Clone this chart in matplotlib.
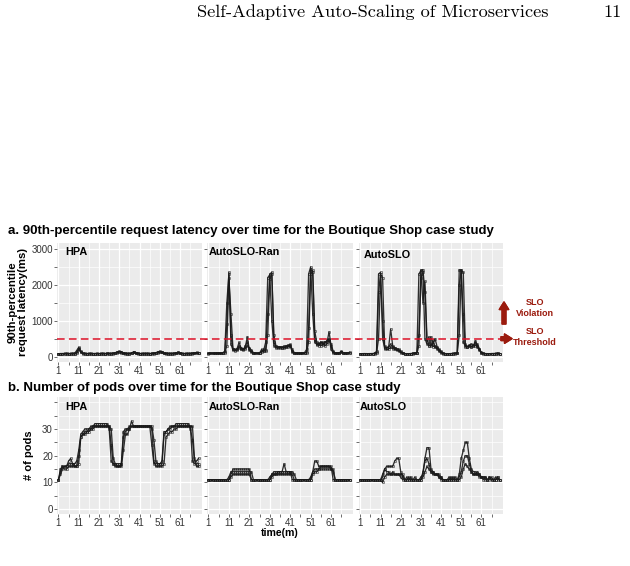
import matplotlib
matplotlib.use("Agg")
import matplotlib.pyplot as plt
from matplotlib.lines import Line2D

plt.rcParams["font.family"] = ["Liberation Sans", "DejaVu Sans"]

# time axis (minutes)
time = list(range(1, 71))
methods = ["HPA", "AutoSLO-Ran", "AutoSLO"]
slo_threshold = 500

# 90th-percentile latency (ms), three runs per method
hpa_latency = [
    [80, 85, 82, 88, 84, 86, 83, 90, 85, 120, 240, 130, 90, 86, 84, 88, 85, 83, 86, 84,
     85, 88, 84, 86, 90, 85, 87, 92, 110, 130, 150, 120, 95, 88, 86, 90, 100, 135, 95, 88,
     85, 87, 84, 86, 88, 85, 90, 95, 110, 130, 150, 120, 92, 88, 86, 90, 85, 88, 95, 115,
     90, 86, 85, 88, 84, 86, 90, 95, 110, 100],
    [80, 83, 86, 84, 88, 85, 87, 84, 95, 170, 260, 160, 95, 88, 85, 84, 87, 86, 85, 88,
     84, 86, 88, 85, 87, 89, 86, 90, 100, 120, 140, 135, 100, 90, 87, 85, 92, 120, 110, 90,
     86, 84, 88, 87, 85, 86, 88, 92, 105, 125, 140, 130, 100, 90, 87, 85, 88, 90, 100, 120,
     100, 88, 86, 85, 87, 88, 92, 100, 115, 95],
    [75, 80, 78, 82, 80, 79, 81, 80, 82, 100, 200, 120, 85, 80, 82, 80, 79, 81, 80, 82,
     80, 79, 82, 80, 81, 83, 80, 85, 95, 110, 130, 110, 90, 82, 80, 82, 90, 115, 90, 82,
     80, 81, 79, 82, 80, 81, 82, 86, 95, 110, 130, 115, 88, 82, 80, 81, 80, 84, 90, 105,
     88, 82, 80, 82, 81, 80, 84, 88, 100, 90],
]
ran_latency = [
    [90, 95, 88, 92, 100, 95, 90, 110, 130, 900, 2350, 600, 200, 180, 220, 400, 220, 200, 250, 550,
     200, 150, 100, 95, 90, 100, 150, 200, 180, 1200, 2300, 2350, 400, 280, 260, 270, 250, 260, 280, 300,
     340, 150, 100, 95, 90, 95, 92, 100, 120, 800, 2450, 2350, 500, 320, 380, 300, 350, 420, 400, 690,
     300, 120, 95, 90, 100, 150, 110, 95, 100, 120],
    [90, 92, 95, 90, 92, 98, 95, 100, 150, 1500, 2300, 350, 180, 170, 200, 300, 250, 180, 300, 400,
     180, 120, 95, 92, 90, 95, 130, 170, 400, 2200, 2280, 1000, 300, 250, 240, 260, 250, 240, 260, 280,
     300, 120, 95, 92, 95, 90, 95, 110, 200, 2300, 2500, 1200, 400, 350, 300, 420, 320, 380, 450, 500,
     200, 100, 92, 95, 100, 140, 100, 92, 95, 110],
    [85, 88, 90, 92, 88, 90, 92, 95, 110, 300, 2200, 1200, 220, 200, 180, 250, 200, 220, 220, 300,
     250, 180, 110, 95, 92, 95, 200, 150, 150, 600, 2150, 2300, 600, 300, 280, 250, 270, 290, 300, 320,
     320, 200, 110, 95, 92, 90, 95, 100, 110, 400, 2300, 2400, 700, 400, 350, 380, 400, 300, 350, 450,
     350, 150, 100, 95, 92, 120, 95, 90, 100, 110],
]
autoslo_latency = [
    [80, 82, 85, 80, 83, 85, 82, 90, 150, 2300, 2350, 500, 250, 240, 260, 770, 300, 250, 220, 200,
     150, 100, 85, 82, 80, 85, 90, 95, 110, 600, 2400, 2420, 1800, 400, 550, 300, 350, 500, 280, 200,
     150, 95, 85, 82, 80, 85, 88, 90, 100, 2000, 2420, 400, 300, 280, 320, 350, 300, 440, 300, 200,
     120, 90, 85, 82, 80, 85, 82, 88, 90, 85],
    [78, 80, 82, 84, 80, 82, 85, 88, 120, 1800, 2300, 2200, 300, 250, 280, 350, 260, 240, 200, 180,
     120, 95, 82, 80, 82, 84, 88, 90, 100, 2300, 2400, 1500, 2100, 500, 300, 550, 280, 300, 250, 180,
     120, 90, 82, 80, 82, 84, 86, 88, 95, 2420, 2400, 2350, 350, 280, 300, 260, 320, 300, 350, 220,
     100, 88, 82, 80, 82, 84, 86, 85, 88, 82],
    [75, 78, 80, 78, 76, 80, 82, 85, 100, 500, 2250, 1000, 220, 200, 210, 260, 220, 200, 180, 160,
     110, 90, 80, 78, 80, 82, 85, 88, 92, 300, 2200, 2350, 500, 350, 300, 320, 450, 260, 220, 150,
     100, 85, 80, 78, 80, 82, 85, 86, 90, 600, 2350, 1200, 280, 260, 300, 280, 300, 380, 260, 180,
     95, 85, 80, 78, 80, 82, 84, 82, 85, 80],
]

# number of pods, three runs per method
hpa_pods = [
    [11, 14, 16, 16, 16, 17, 17, 17, 17, 18, 22, 28, 29, 30, 30, 30, 31, 31, 32, 32,
     32, 32, 32, 32, 32, 30, 18, 17, 17, 17, 17, 17, 27, 29, 30, 30, 31, 31, 31, 31,
     31, 31, 31, 31, 31, 31, 24, 17, 17, 17, 17, 17, 28, 29, 30, 30, 31, 31, 31, 31,
     31, 31, 31, 31, 31, 31, 18, 17, 17, 17],
    [11, 13, 15, 16, 16, 18, 19, 17, 16, 16, 20, 27, 28, 29, 29, 30, 30, 31, 31, 31,
     31, 31, 31, 31, 31, 31, 24, 17, 16, 16, 16, 16, 22, 28, 28, 30, 33, 31, 31, 31,
     31, 31, 31, 31, 31, 31, 30, 18, 16, 16, 16, 16, 17, 27, 28, 29, 29, 30, 30, 31,
     31, 31, 31, 31, 31, 31, 31, 19, 16, 16],
    [11, 15, 16, 15, 15, 16, 16, 16, 16, 16, 17, 27, 28, 28, 29, 29, 30, 30, 31, 31,
     31, 31, 31, 31, 31, 31, 30, 19, 17, 16, 16, 17, 29, 30, 30, 31, 31, 31, 31, 31,
     31, 31, 31, 31, 31, 31, 31, 26, 18, 17, 17, 18, 29, 29, 30, 31, 31, 31, 32, 32,
     32, 32, 32, 32, 32, 30, 26, 18, 18, 19],
]
ran_pods = [
    [11, 11, 11, 11, 11, 11, 11, 11, 11, 11, 11, 13, 15, 15, 15, 15, 15, 15, 15, 15,
     15, 11, 11, 11, 11, 11, 11, 11, 11, 11, 11, 13, 14, 14, 14, 14, 14, 17, 14, 14,
     14, 11, 11, 11, 11, 11, 11, 11, 11, 11, 11, 14, 18, 18, 16, 16, 16, 16, 16, 16,
     16, 11, 11, 11, 11, 11, 11, 11, 11, 11],
    [11, 11, 11, 11, 11, 11, 11, 11, 11, 11, 12, 14, 14, 14, 14, 14, 14, 14, 14, 14,
     14, 14, 11, 11, 11, 11, 11, 11, 11, 11, 12, 13, 13, 13, 13, 13, 13, 13, 13, 13,
     13, 13, 11, 11, 11, 11, 11, 11, 11, 11, 12, 14, 15, 15, 15, 16, 16, 16, 16, 16,
     15, 15, 11, 11, 11, 11, 11, 11, 11, 11],
    [11, 11, 11, 11, 11, 11, 11, 11, 11, 11, 11, 12, 13, 13, 13, 13, 13, 13, 13, 13,
     13, 11, 11, 11, 11, 11, 11, 11, 11, 11, 11, 12, 13, 13, 14, 14, 14, 14, 14, 14,
     14, 14, 13, 11, 11, 11, 11, 11, 11, 11, 11, 13, 14, 14, 15, 15, 15, 15, 15, 15,
     15, 14, 11, 11, 11, 11, 11, 11, 11, 11],
]
autoslo_pods = [
    [11, 11, 11, 11, 11, 11, 11, 11, 11, 11, 11, 13, 15, 16, 16, 16, 16, 18, 19, 19,
     14, 12, 11, 11, 12, 11, 11, 11, 11, 11, 12, 13, 19, 23, 23, 15, 14, 13, 13, 12,
     11, 11, 11, 11, 12, 11, 11, 12, 11, 13, 19, 22, 25, 25, 19, 15, 14, 14, 13, 13,
     12, 12, 12, 11, 12, 11, 11, 12, 11, 11],
    [11, 11, 11, 11, 11, 11, 11, 11, 11, 11, 11, 12, 15, 14, 14, 13, 13, 13, 13, 13,
     13, 13, 11, 11, 11, 12, 11, 11, 11, 11, 11, 14, 18, 19, 17, 14, 13, 13, 13, 13,
     12, 11, 11, 11, 11, 11, 12, 11, 11, 12, 14, 18, 20, 20, 17, 14, 13, 13, 14, 13,
     12, 11, 12, 11, 11, 12, 11, 11, 12, 11],
    [11, 11, 11, 11, 11, 11, 11, 11, 11, 11, 11, 10, 12, 13, 13, 13, 14, 13, 13, 13,
     12, 11, 11, 12, 11, 11, 11, 12, 11, 11, 11, 12, 14, 16, 15, 14, 14, 13, 13, 12,
     12, 11, 11, 11, 11, 12, 11, 11, 11, 11, 12, 15, 17, 16, 15, 14, 13, 13, 13, 12,
     12, 12, 11, 11, 12, 11, 11, 11, 12, 11],
]

latency = [hpa_latency, ran_latency, autoslo_latency]
pods = [hpa_pods, ran_pods, autoslo_pods]

x_major = [1, 11, 21, 31, 41, 51, 61]
x_minor = [6, 16, 26, 36, 46, 56, 66]
lat_ticks = [0, 1000, 2000, 3000]
lat_minor = [500, 1500, 2500]
pod_ticks = [0, 10, 20, 30]
pod_minor = [5, 15, 25, 35, 40]

W, H = 630, 566
fig = plt.figure(figsize=(W / 100, H / 100), dpi=100)

lefts = [57, 207, 359]
widths = [145, 146, 144]
dark_red = "#9B1B0E"


def make_axes(top, bottom):
    axes = []
    for l, w in zip(lefts, widths):
        axes.append(fig.add_axes([l / W, 1 - bottom / H, w / W, (bottom - top) / H]))
    return axes


def style_panel(ax, yticks, yminor, ylim, show_y):
    ax.set_facecolor("#EBEBEB")
    for s in ax.spines.values():
        s.set_visible(False)
    ax.set_xlim(0.3, 71.7)
    ax.set_ylim(*ylim)
    ax.set_xticks(x_major)
    ax.set_xticks(x_minor, minor=True)
    ax.set_yticks(yticks)
    ax.set_yticks(yminor, minor=True)
    ax.grid(which="major", color="white", lw=0.9)
    ax.grid(which="minor", color="white", lw=0.5)
    ax.set_axisbelow(True)
    ax.tick_params(which="both", length=2, width=0.5, color="#333333",
                   labelsize=7, labelcolor="#333333", pad=1)
    ax.tick_params(axis="y", labelleft=show_y)


def draw_runs(ax, runs):
    for r in runs:
        ax.plot(time, r, color="#1a1a1a", lw=0.95, alpha=0.9,
                marker="o", ms=1.7, mfc="none", mew=0.4)


top_axes = make_axes(243, 362)
bot_axes = make_axes(397, 514)
label_dx = [0.055, 0.015, 0.03]

for i, ax in enumerate(top_axes):
    style_panel(ax, lat_ticks, lat_minor, (-150, 3165), i == 0)
    draw_runs(ax, latency[i])
    ax.text(label_dx[i], 0.965 if i < 2 else 0.94, methods[i], transform=ax.transAxes,
            fontsize=7.8, fontweight="bold", va="top", ha="left")

for i, ax in enumerate(bot_axes):
    style_panel(ax, pod_ticks, pod_minor, (-1.8, 42), i == 0)
    draw_runs(ax, pods[i])
    ax.text(label_dx[i] if i < 2 else 0.008, 0.955, methods[i], transform=ax.transAxes,
            fontsize=7.8, fontweight="bold", va="top", ha="left")

# SLO threshold line spanning all three latency panels
fig.canvas.draw()
y_thr = top_axes[0].transData.transform((1, slo_threshold))[1] / fig.dpi / fig.get_figheight()
fig.add_artist(Line2D([lefts[0] / W, (lefts[2] + widths[2]) / W], [y_thr, y_thr],
                      transform=fig.transFigure, color="#DC1026", lw=1.1,
                      dashes=(5, 2.8)))

# SLO annotation arrows
arrow_style = "simple,head_length=0.6,head_width=0.75,tail_width=0.3"
fig.add_artist(plt.annotate("", xy=(504, H - 302), xytext=(504, H - 324),
                            xycoords="figure pixels", textcoords="figure pixels",
                            arrowprops=dict(arrowstyle=arrow_style, color=dark_red,
                                            mutation_scale=9, shrinkA=0, shrinkB=0)))
fig.add_artist(plt.annotate("", xy=(512, y_thr * H), xytext=(501, y_thr * H),
                            xycoords="figure pixels", textcoords="figure pixels",
                            arrowprops=dict(arrowstyle=arrow_style, color=dark_red,
                                            mutation_scale=9, shrinkA=0, shrinkB=0)))
fig.text(535 / W, 1 - 308 / H, "SLO\nViolation", color=dark_red, fontsize=6.5,
         fontweight="bold", ha="center", va="center", linespacing=1.25)
fig.text(535 / W, 1 - 337 / H, "SLO\nThreshold", color=dark_red, fontsize=6.5,
         fontweight="bold", ha="center", va="center", linespacing=1.25)

# titles and axis labels
fig.text(8 / W, 1 - 234 / H,
         "a. 90th-percentile request latency over time for the Boutique Shop case study",
         fontsize=9.5, fontweight="bold", va="baseline")
fig.text(8 / W, 1 - 390.5 / H,
         "b. Number of pods over time for the Boutique Shop case study",
         fontsize=9.5, fontweight="bold", va="baseline")
fig.text(18 / W, 1 - 302 / H, "90th-percentile\nrequest latency(ms)", rotation=90,
         fontsize=8.2, fontweight="bold", ha="center", va="center", linespacing=1.0)
fig.text(29 / W, 1 - 455 / H, "# of pods", rotation=90,
         fontsize=8, fontweight="bold", ha="center", va="center")
fig.text(280 / W, 1 - 535.5 / H, "time(m)", fontsize=7.6, fontweight="bold",
         ha="center", va="baseline")

# page header
fig.text(197 / W, 1 - 17 / H, "Self-Adaptive Auto-Scaling of Microservices",
         family="cmr10", fontsize=13.2, va="baseline")
fig.text(622 / W, 1 - 17 / H, "11", family="cmr10", fontsize=13.2,
         va="baseline", ha="right")

fig.savefig("out.png", dpi=100)
